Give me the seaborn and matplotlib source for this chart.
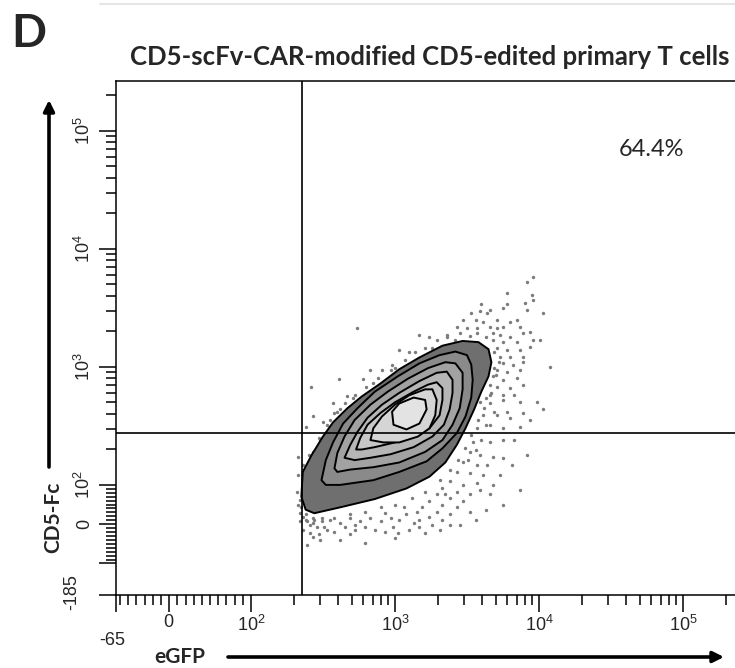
import numpy as np
import matplotlib
matplotlib.use("Agg")
import matplotlib.pyplot as plt
import seaborn as sns
from matplotlib.ticker import FixedLocator

# eGFP vs CD5-Fc, CD5-scFv-CAR-modified CD5-edited primary T cells.
# Positions in "decades":
# 2 -> 10^2, 3 -> 10^3 ... ; below 2 the axis is linear down to 0 / negatives.
X_LIN_DEC = 0.568   # width of 0..100 on the eGFP axis, in decades
Y_LIN_DEC = 0.333   # width of 0..100 on the CD5-Fc axis, in decades

x_limits = (-65, 2.3e5)
y_limits = (-185, 2.65e5)
gate_egfp = 226
gate_cd5 = 276
quadrant_label = "64.4%"

x_major = [-65, 0, 1e2, 1e3, 1e4, 1e5]
x_major_labels = ["", "0", "10^{2}", "10^{3}", "10^{4}", "10^{5}"]
y_major = [-185, -100, 0, 1e2, 1e3, 1e4, 1e5]
y_major_labels = ["", "", "0", "10^{2}", "10^{3}", "10^{4}", "10^{5}"]

# contour levels, outer -> inner
c0_egfp = [2.35, 2.36, 2.42, 2.50, 2.57, 2.67, 2.77, 2.90, 3.03, 3.17, 3.33, 3.47, 3.58, 3.65,
           3.67, 3.65, 3.60, 3.55, 3.49, 3.43, 3.35, 3.24, 3.08, 2.86, 2.62, 2.44, 2.38]
c0_cd5 = [1.90, 2.11, 2.25, 2.41, 2.53, 2.65, 2.75, 2.86, 2.98, 3.08, 3.18, 3.22, 3.21, 3.15,
          3.04, 2.92, 2.79, 2.64, 2.48, 2.34, 2.19, 2.07, 1.97, 1.88, 1.81, 1.76, 1.79]
c1_egfp = [2.49, 2.52, 2.57, 2.64, 2.74, 2.86, 3.02, 3.17, 3.31, 3.42, 3.50, 3.53, 3.54, 3.53,
           3.49, 3.43, 3.33, 3.22, 3.03, 2.85, 2.62, 2.52]
c1_cd5 = [2.04, 2.21, 2.36, 2.52, 2.65, 2.79, 2.92, 3.03, 3.10, 3.13, 3.10, 3.02, 2.89, 2.74,
          2.58, 2.44, 2.31, 2.20, 2.11, 2.04, 2.00, 2.00]
c2_egfp = [2.58, 2.60, 2.65, 2.72, 2.83, 2.95, 3.09, 3.23, 3.35, 3.42, 3.47, 3.47, 3.45, 3.40,
           3.33, 3.21, 3.03, 2.85, 2.69, 2.60]
c2_cd5 = [2.14, 2.27, 2.41, 2.55, 2.68, 2.79, 2.90, 2.99, 3.04, 3.03, 2.95, 2.81, 2.65, 2.51,
          2.38, 2.28, 2.19, 2.15, 2.13, 2.11]
c3_egfp = [2.65, 2.69, 2.74, 2.81, 2.91, 3.03, 3.17, 3.29, 3.36, 3.40, 3.40, 3.38, 3.34, 3.26,
           3.13, 2.97, 2.83, 2.72]
c3_cd5 = [2.23, 2.34, 2.45, 2.57, 2.68, 2.78, 2.88, 2.95, 2.96, 2.89, 2.78, 2.64, 2.51, 2.41,
          2.32, 2.26, 2.23, 2.21]
c4_egfp = [2.73, 2.76, 2.81, 2.90, 3.00, 3.13, 3.23, 3.29, 3.33, 3.33, 3.31, 3.24, 3.14, 3.00,
           2.86, 2.77]
c4_cd5 = [2.30, 2.40, 2.51, 2.61, 2.70, 2.79, 2.85, 2.87, 2.82, 2.72, 2.59, 2.48, 2.41, 2.36,
          2.32, 2.30]
c5_egfp = [2.83, 2.85, 2.91, 3.00, 3.10, 3.21, 3.26, 3.29, 3.28, 3.24, 3.16, 3.03, 2.92]
c5_cd5 = [2.38, 2.48, 2.58, 2.68, 2.76, 2.81, 2.81, 2.72, 2.59, 2.48, 2.41, 2.36, 2.36]
c6_egfp = [2.98, 2.99, 3.08, 3.17, 3.22, 3.21, 3.13, 3.03]
c6_cd5 = [2.62, 2.51, 2.47, 2.52, 2.64, 2.72, 2.74, 2.69]

# events drawn outside the outer contour
dots_egfp = [
    3.96, 3.92, 3.78, 3.95, 3.96, 3.60, 3.78, 3.90, 3.53, 3.59, 3.64, 3.66, 3.75, 3.92, 4.03,
    3.47, 3.56, 3.61, 3.71, 3.80, 3.85, 3.43, 3.50, 3.57, 3.66, 3.71, 3.75, 3.87, 3.94, 3.36,
    3.45, 3.57, 3.68, 3.73, 3.80, 3.89, 3.29, 3.36, 3.68, 3.75, 3.85, 3.96, 4.01, 3.71, 3.78,
    3.87, 3.94, 3.73, 3.80, 3.89, 3.75, 3.82, 3.89, 4.08, 3.71, 3.78, 3.87, 3.68, 3.75, 3.85,
    3.71, 3.80, 3.89, 3.67, 3.75, 3.69, 3.66,
    3.59, 3.66, 3.75, 3.87, 3.99, 4.03, 3.61, 3.71, 3.80, 3.89, 3.57, 3.66, 3.75, 3.87, 3.54,
    3.66, 3.75, 3.52, 3.59, 3.68, 3.75, 3.47, 3.57, 3.73, 3.43, 3.52, 3.61, 3.38, 3.47, 3.57,
    3.33, 3.43, 3.52, 3.66, 3.75, 3.29, 3.38, 3.47, 3.24, 3.33, 3.43, 3.52, 3.19, 3.29, 3.38,
    3.15, 3.24, 3.33, 3.08, 3.17, 3.26, 3.03, 3.13, 2.97, 2.90, 2.99, 2.83, 2.76, 2.69, 2.62,
    2.55, 2.49, 2.43, 2.41, 2.38, 3.63,
    2.34, 2.36, 2.39, 2.43, 2.46, 2.41, 2.43, 2.39, 2.47, 2.36, 2.48, 2.53, 2.58, 2.65, 2.72,
    2.79, 2.86, 2.93, 3.02, 3.10, 3.21, 3.31, 3.45, 2.62, 2.79,
    2.33, 2.33, 2.32, 2.33, 2.34,
    2.74, 3.17, 3.03, 3.10, 2.61, 2.78, 2.42, 2.91, 2.98, 3.24, 2.57, 2.43, 2.38, 2.50, 2.58,
    2.67, 2.83, 3.07, 3.14, 3.21, 2.97, 2.88, 2.80, 2.72, 2.65, 2.60, 2.53, 2.48, 2.43,
    3.69, 3.72, 3.70, 3.66, 3.62, 3.58, 3.53, 3.49, 3.44, 3.38, 3.31, 3.63, 3.69, 3.78, 3.83,
    3.60, 3.56, 3.51, 3.64, 3.83, 3.94, 3.81, 3.92, 3.68, 3.59, 3.87,
    3.21, 3.12, 3.00, 2.90, 2.79, 2.69, 2.58, 2.49, 3.35, 3.06, 2.93, 2.72, 2.51, 2.44, 2.38,
    2.35, 2.34, 3.17, 3.38, 3.56, 3.63, 3.00, 2.69,
    3.26, 3.42, 3.52, 3.63, 3.00, 2.85, 2.71, 2.62, 2.55, 2.47, 2.40, 2.36,
]
dots_cd5 = [
    3.76, 3.72, 3.63, 3.61, 3.57, 3.53, 3.53, 3.54, 3.46, 3.47, 3.46, 3.48, 3.50, 3.48, 3.46,
    3.40, 3.40, 3.38, 3.40, 3.38, 3.40, 3.34, 3.33, 3.33, 3.34, 3.33, 3.34, 3.34, 3.30, 3.27,
    3.29, 3.29, 3.29, 3.27, 3.25, 3.29, 3.23, 3.25, 3.23, 3.21, 3.21, 3.23, 3.23, 3.16, 3.14,
    3.14, 3.17, 3.08, 3.08, 3.08, 3.03, 3.02, 3.04, 3.00, 2.97, 2.96, 2.97, 2.92, 2.89, 2.91,
    2.83, 2.82, 2.85, 2.78, 2.76, 2.99, 2.85,
    2.70, 2.69, 2.72, 2.70, 2.70, 2.64, 2.59, 2.59, 2.57, 2.61, 2.48, 2.51, 2.48, 2.49, 2.36,
    2.36, 2.38, 2.28, 2.25, 2.24, 2.23, 2.19, 2.17, 2.08, 2.11, 2.10, 2.08, 2.03, 2.00, 2.02,
    1.97, 1.94, 1.92, 1.92, 1.83, 1.92, 1.89, 1.86, 1.86, 1.83, 1.81, 1.77, 1.81, 1.77, 1.75,
    1.77, 1.73, 1.70, 1.75, 1.70, 1.66, 1.70, 1.68, 1.72, 1.69, 1.64, 1.72, 1.69, 1.72, 1.68,
    1.70, 1.69, 1.72, 1.66, 1.75, 2.74,
    1.76, 1.73, 1.69, 1.68, 1.64, 1.59, 1.56, 1.49, 1.58, 1.62, 1.53, 1.62, 1.60, 1.64, 1.62,
    1.64, 1.62, 1.60, 1.59, 1.62, 1.59, 1.62, 1.66, 1.53, 1.51,
    2.24, 2.08, 1.94, 1.83, 1.69,
    3.33, 3.27, 3.14, 3.13, 2.90, 2.90, 2.83, 2.97, 3.02, 3.25, 2.69, 2.58, 2.49, 2.53, 2.61,
    2.75, 2.97, 3.06, 3.13, 3.16, 2.97, 2.91, 2.83, 2.76, 2.69, 2.62, 2.51, 2.38, 2.28,
    3.13, 3.04, 2.93, 2.76, 2.65, 2.55, 2.42, 2.31, 2.21, 2.13, 2.04, 2.51, 2.62, 2.62, 2.76,
    2.38, 2.30, 2.21, 2.17, 2.38, 2.55, 2.17, 2.25, 2.00, 1.96, 1.96,
    1.94, 1.89, 1.83, 1.81, 1.77, 1.75, 1.72, 1.72, 1.92, 1.81, 1.76, 1.66, 1.64, 1.70, 1.70,
    1.81, 1.87, 1.64, 1.66, 1.70, 1.79, 1.55, 1.58,
    3.16, 3.23, 3.26, 3.25, 2.99, 2.86, 2.74, 2.64, 2.55, 2.40, 2.25, 2.17,
]

contour_egfp = [c0_egfp, c1_egfp, c2_egfp, c3_egfp, c4_egfp, c5_egfp, c6_egfp]
contour_cd5 = [c0_cd5, c1_cd5, c2_cd5, c3_cd5, c4_cd5, c5_cd5, c6_cd5]
level_greys = ["#6f6f6f", "#8a8a8a", "#a2a2a2", "#b6b6b6", "#c7c7c7", "#d5d5d5", "#e3e3e3"]


def to_value(dec, lin_dec):
    """Axis decade position -> fluorescence value (linear below 10^2)."""
    dec = np.asarray(dec, dtype=float)
    return np.where(dec >= 2, 10 ** dec, 100 * (dec - (2 - lin_dec)) / lin_dec)


def math_labels(labels):
    return [r"$\mathregular{%s}$" % s if s else "" for s in labels]


sns.set_style("ticks")
plt.rcParams["font.family"] = ["Liberation Sans", "DejaVu Sans"]
plt.rcParams["mathtext.fontset"] = "custom"
plt.rcParams["mathtext.rm"] = "Liberation Sans"
plt.rcParams["mathtext.it"] = "Liberation Sans:italic"
plt.rcParams["mathtext.bf"] = "Liberation Sans:bold"
label_font = ["Lato", "DejaVu Sans"]

W, H = 735, 668
fig = plt.figure(figsize=(W / 100, H / 100), dpi=100)
ax = fig.add_axes([116 / W, (H - 595) / H, (W - 116) / W, (595 - 81) / H])
ax.set_xscale("symlog", linthresh=100, linscale=X_LIN_DEC * 0.9)
ax.set_yscale("symlog", linthresh=100, linscale=Y_LIN_DEC * 0.9)

sns.scatterplot(x=to_value(dots_egfp, X_LIN_DEC), y=to_value(dots_cd5, Y_LIN_DEC),
                s=6, color="#7c7c7c", linewidth=0, ax=ax, zorder=1)

for cx, cy, grey in zip(contour_egfp, contour_cd5, level_greys):
    ax.fill(to_value(cx, X_LIN_DEC), to_value(cy, Y_LIN_DEC), facecolor=grey,
            edgecolor="black", linewidth=1.4, joinstyle="round", zorder=2)

ax.axvline(gate_egfp, color="black", linewidth=1.2, zorder=3)
ax.axhline(gate_cd5, color="black", linewidth=1.2, zorder=3)

ax.set_xlim(*x_limits)
ax.set_ylim(*y_limits)

decade_minors = [k * 10 ** e for e in (2, 3, 4) for k in range(2, 10)] + [2e5]
lin_minors = [v for v in range(-90, 100, 10) if v != 0]
ax.xaxis.set_major_locator(FixedLocator(x_major))
ax.xaxis.set_minor_locator(FixedLocator([v for v in lin_minors if v > -65] + decade_minors))
ax.yaxis.set_major_locator(FixedLocator(y_major))
ax.yaxis.set_minor_locator(FixedLocator(lin_minors + decade_minors))
ax.set_xticklabels(math_labels(x_major_labels))
ax.set_yticklabels(math_labels(y_major_labels))
ax.tick_params(which="major", length=12, width=1.1, color="black", labelsize=13, pad=2)
ax.tick_params(which="minor", length=7, width=1.1, color="black")
ax.tick_params(axis="y", which="major", labelrotation=90, pad=4)
for lab in ax.get_yticklabels():
    lab.set_va("center")

ax.spines["right"].set_visible(False)
for side in ("left", "bottom", "top"):
    ax.spines[side].set_linewidth(1.1)
    ax.spines[side].set_color("black")
ax.set_xlabel("")
ax.set_ylabel("")

# offset labels for the axis minimums
ax.annotate("-65", xy=(-65, 0), xycoords=("data", "axes fraction"), xytext=(-3, -33),
            textcoords="offset points", ha="center", va="center", fontsize=13)
ax.annotate("-185", xy=(0, -185), xycoords=("axes fraction", "data"), xytext=(-32, 2),
            textcoords="offset points", ha="center", va="center", fontsize=13, rotation=90)

fig.text(651 / W, 1 - 149 / H, quadrant_label, ha="center", va="center",
         fontsize=17, family=label_font)

fig.text(11 / W, 1 - 34 / H, "D", ha="left", va="center", fontsize=33,
         fontweight="bold", family=label_font)
fig.text(430 / W, 1 - 57 / H, "CD5-scFv-CAR-modified CD5-edited primary T cells",
         ha="center", va="center", fontsize=18.5, fontweight="bold", family=label_font)
fig.text(53 / W, 1 - 517 / H, "CD5-Fc", ha="center", va="center", rotation=90,
         fontsize=15, fontweight="bold", family=label_font)
fig.text(180 / W, 1 - 657 / H, "eGFP", ha="center", va="center",
         fontsize=15, fontweight="bold", family=label_font)

arrow = dict(arrowstyle="-|>", lw=2.6, color="black", mutation_scale=16, shrinkA=0, shrinkB=0)
fig.add_artist(matplotlib.patches.FancyArrowPatch((228, H - 657), (724, H - 657),
                                                   transform=None, **arrow))
fig.add_artist(matplotlib.patches.FancyArrowPatch((49, H - 467), (49, H - 100),
                                                   transform=None, **arrow))
fig.add_artist(matplotlib.lines.Line2D([100 / W, 1], [1 - 4 / H, 1 - 4 / H],
                                       color="#e6e6e6", linewidth=1.5))

fig.savefig("out.png", dpi=100)
